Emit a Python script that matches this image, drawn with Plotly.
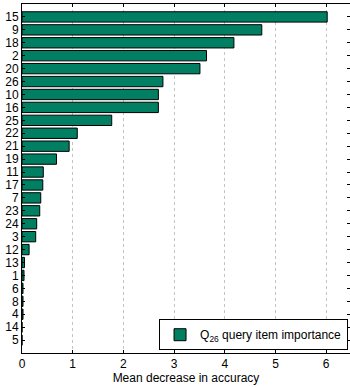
import plotly.graph_objects as go

# Query items, ordered from least to most important (bottom to top)
items = ["5", "14", "4", "8", "6", "1", "13", "12", "3", "24", "23", "7", "17",
         "11", "19", "21", "22", "25", "16", "10", "26", "20", "2", "18", "9", "15"]
importance = [0.0, 0.0, 0.02, 0.02, 0.02, 0.04, 0.05, 0.14, 0.27, 0.29, 0.35, 0.37, 0.41,
              0.42, 0.68, 0.93, 1.09, 1.77, 2.69, 2.69, 2.78, 3.51, 3.64, 4.18, 4.73, 6.02]
x_ticks = [0, 1, 2, 3, 4, 5, 6]

FONT = "Liberation Sans, Arial, Helvetica, sans-serif"
BAR_COLOR = "#007f62"

fig = go.Figure()
fig.add_trace(go.Bar(
    x=importance,
    y=items,
    orientation="h",
    marker=dict(color=BAR_COLOR, line=dict(color="black", width=1)),
    name="Q<sub>26</sub> query item importance",
    showlegend=True,
))

fig.update_layout(
    width=350,
    height=387,
    margin=dict(l=22, r=0, t=4, b=34),
    paper_bgcolor="white",
    plot_bgcolor="white",
    font=dict(family=FONT, size=12, color="black"),
    bargap=0.2,
    showlegend=True,
    legend=dict(
        x=0.994, y=0.008, xanchor="right", yanchor="bottom",
        bgcolor="white", bordercolor="black", borderwidth=1,
        font=dict(family=FONT, size=12, color="black"),
        tracegroupgap=0,
    ),
    xaxis=dict(
        range=[0, 6.47],
        tickmode="array",
        tickvals=x_ticks,
        ticktext=[str(v) for v in x_ticks],
        ticks="inside",
        ticklen=3,
        tickcolor="black",
        showline=True,
        linecolor="black",
        linewidth=1,
        mirror="ticks",
        showgrid=True,
        gridcolor="#c4c4c4",
        griddash="dot",
        gridwidth=1,
        zeroline=False,
        title=dict(text="Mean decrease in accuracy", standoff=2,
                   font=dict(family=FONT, size=12)),
        tickfont=dict(family=FONT, size=12),
    ),
    yaxis=dict(
        type="category",
        categoryorder="array",
        categoryarray=items,
        tickmode="array",
        tickvals=items,
        ticktext=items,
        range=[-1, 26],
        ticks="inside",
        ticklen=3,
        tickcolor="black",
        showline=True,
        linecolor="black",
        linewidth=1,
        mirror="ticks",
        showgrid=False,
        zeroline=False,
        tickfont=dict(family=FONT, size=12),
    ),
)

fig.write_html("out.html")
